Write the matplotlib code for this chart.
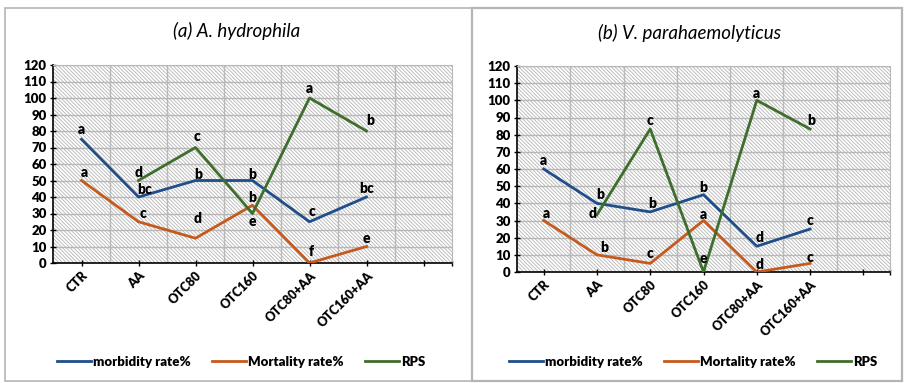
import matplotlib
matplotlib.use('Agg')
import matplotlib.pyplot as plt
from matplotlib.patches import Rectangle
import numpy as np

plt.rcParams['font.family'] = ['Lato', 'DejaVu Sans']
plt.rcParams['hatch.linewidth'] = 0.6

# categories (7th slot is empty on the original axis)
groups = ['CTR', 'AA', 'OTC80', 'OTC160', 'OTC80+AA', 'OTC160+AA', '']

# (a) A. hydrophila
morb_a = [75, 40, 50, 50, 25, 40]
mort_a = [50, 25, 15, 35, 0, 10]
rps_a = [np.nan, 50, 70, 30, 100, 80]
morb_a_let = ['a', 'bc', 'b', 'b', 'c', 'bc']
mort_a_let = ['a', 'c', 'd', 'b', 'f', 'e']
rps_a_let = ['', 'd', 'c', 'e', 'a', 'b']

# (b) V. parahaemolyticus
morb_b = [60, 40, 35, 45, 15, 25]
mort_b = [30, 10, 5, 30, 0, 5]
rps_b = [np.nan, 33.3, 83.3, 0, 100, 83.3]
morb_b_let = ['a', 'b', 'b', 'b', 'd', 'c']
mort_b_let = ['a', 'b', 'c', 'a', 'd', 'c']
rps_b_let = ['', 'd', 'c', 'e', 'a', 'b']

# letter placement offsets (x in category units, y in % units)
off_a = {
    'morb': ([0, 0.1, 0.05, 0, 0.05, 0], [6, 4.5, 3.6, 3.6, 6.4, 5]),
    'mort': ([0.05, 0.08, 0.04, 0, 0.04, 0], [5, 5, 12, 4.5, 7, 5]),
    'rps': ([0, 0, 0.03, 0, 0, 0.07], [0, 5, 6.5, -5, 5.7, 6.4]),
}
off_b = {
    'morb': ([0, 0.07, 0.03, 0, 0.05, 0], [5, 5, 5, 4.5, 5, 5]),
    'mort': ([0.06, 0.13, 0, 0, 0.05, 0], [4, 4.5, 5.7, 3.4, 4.5, 3.7]),
    'rps': ([0, -0.08, 0, 0, 0, 0.03], [0, 0.7, 4.7, 8, 4, 4.7]),
}

c_morb = '#1f4e8a'
c_mort = '#c55a1e'
c_rps = '#3e6e2c'

fig = plt.figure(figsize=(9.05, 3.83), dpi=100)

# panel frames
fig.patches.append(Rectangle((5 / 905, 2 / 383), 467 / 905, 373 / 383, transform=fig.transFigure,
                             fill=False, edgecolor='#b5b5b5', lw=1.2))
fig.patches.append(Rectangle((472 / 905, 2 / 383), 430 / 905, 373 / 383, transform=fig.transFigure,
                             fill=False, edgecolor='#b5b5b5', lw=1.6))

ax_a = fig.add_axes([53 / 905, 1 - 263 / 383, 399 / 905, 198 / 383])
ax_b = fig.add_axes([517 / 905, 1 - 272 / 383, 373 / 905, 206 / 383])


def draw(ax, title, morb, mort, rps, lets, offs, title_x, title_y, leg_x):
    x = np.arange(len(morb))
    ax.add_patch(Rectangle((0, 0), 1, 1, transform=ax.transAxes, facecolor='white',
                           edgecolor='#b4b4b4', lw=0, hatch='\\' * 9, zorder=0))
    ax.set_xlim(-0.5, 6.5)
    ax.set_ylim(0, 120)
    ax.set_yticks(np.arange(0, 121, 10))
    ax.set_xticks(list(range(7)) + [6.5])
    ax.set_xticklabels(groups + [''], rotation=45, ha='right', rotation_mode='anchor',
                       fontsize=9, fontweight='heavy')
    ax.set_xticks(np.arange(0.5, 6.5, 1), minor=True)
    ax.tick_params(axis='x', which='minor', length=0)
    ax.tick_params(axis='both', which='major', direction='inout', length=5, width=1, pad=2)
    for lab in ax.get_yticklabels():
        lab.set_fontweight('heavy')
        lab.set_fontsize(9.5)
    ax.grid(True, which='major', axis='y', color='#b8b8b8', lw=1.0, zorder=1)
    ax.grid(True, which='minor', axis='x', color='#b8b8b8', lw=1.0, zorder=1)
    ax.set_axisbelow(True)
    for s in ['top', 'right']:
        ax.spines[s].set_color('#b8b8b8')
    ax.spines['left'].set_linewidth(1.2)
    ax.spines['bottom'].set_linewidth(1.2)

    ax.plot(x, morb, color=c_morb, lw=2, label='morbidity rate%', zorder=3)
    ax.plot(x, mort, color=c_mort, lw=2, label='Mortality rate%', zorder=3)
    ax.plot(x, rps, color=c_rps, lw=2, label='RPS', zorder=3)

    for key, vals in (('morb', morb), ('mort', mort), ('rps', rps)):
        dx, dy = offs[key]
        for i, v in enumerate(vals):
            t = lets[key][i]
            if not t:
                continue
            ax.text(x[i] + dx[i], v + dy[i], t, ha='center', va='center',
                    fontsize=10, fontweight='heavy', zorder=4)

    fig.text(title_x, title_y, title, ha='center', va='center', fontsize=13.5, style='italic')
    ax.legend(loc='center', bbox_to_anchor=(leg_x, 0.055), bbox_transform=fig.transFigure,
              ncol=3, frameon=False, handlelength=2.6, handletextpad=0.15, columnspacing=1.6,
              prop={'weight': 'heavy', 'size': 9.5})


draw(ax_a, '(a) A. hydrophila', morb_a, mort_a, rps_a,
     {'morb': morb_a_let, 'mort': mort_a_let, 'rps': rps_a_let}, off_a, 237 / 905, 1 - 31 / 383, 241 / 905)
draw(ax_b, '(b) V. parahaemolyticus', morb_b, mort_b, rps_b,
     {'morb': morb_b_let, 'mort': mort_b_let, 'rps': rps_b_let}, off_b, 690 / 905, 1 - 33 / 383, 693 / 905)

fig.savefig('out.png', dpi=100)
